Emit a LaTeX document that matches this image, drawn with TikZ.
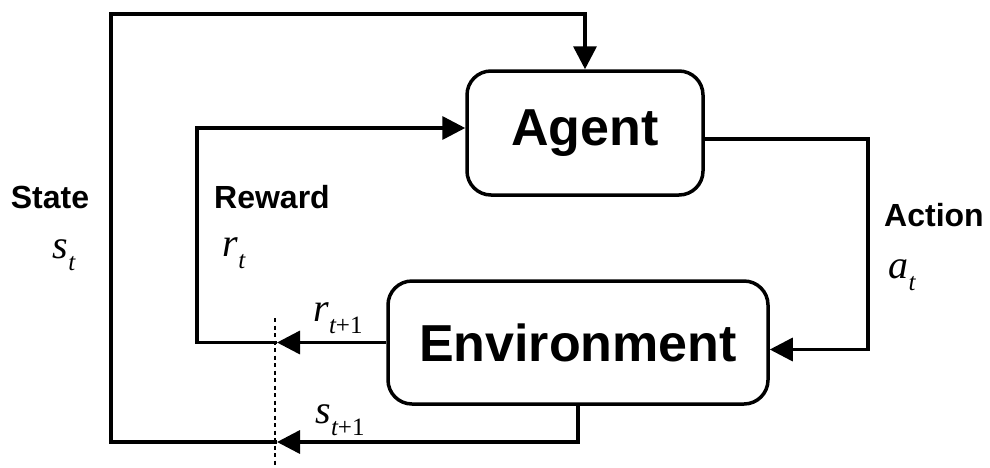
\documentclass[tikz,border=0pt]{standalone}
\usepackage{fontspec}
\setmainfont{Liberation Sans}
\newfontfamily\tms{Liberation Serif}
\usetikzlibrary{arrows.meta}
\newcommand\vsym[2]{{\tms\fontsize{40}{40}\selectfont\itshape #1\raisebox{-12pt}{\fontsize{25}{25}\selectfont #2}}}
\tikzset{
  box/.style={draw, line width=3.5pt, rounded corners=24pt, inner sep=0pt, font=\fontsize{52}{52}\selectfont\bfseries},
  conn/.style={line width=3.5pt},
  arr/.style={conn, -{Triangle[length=23pt,width=23pt]}},
  lbl/.style={font=\fontsize{32}{32}\selectfont\bfseries, inner sep=0pt},
  sym/.style={inner sep=0pt},
  cut/.style={line width=1.6pt, dash pattern=on 4pt off 3.5pt}
}
\begin{document}
\begin{tikzpicture}[x=1pt,y=-1pt]
\useasboundingbox (0,0) rectangle (990,467);
\node[box, minimum width=236pt, minimum height=124pt] (agent) at (585,133) {Agent};
\node[box, minimum width=380pt, minimum height=123pt] (env) at (578,342.5) {Environment};
% coordinates
\coordinate (sb) at (277,442);
\coordinate (sbl) at (111,442);
\coordinate (stl) at (111,14);
\coordinate (rb) at (277,342.5);
\coordinate (rbl) at (197,342.5);
\coordinate (rtl) at (197,128);
\coordinate (ar) at (868,139);
% state loop
\draw[arr] (env.south) |- (sb);
\draw[arr] (sb) -- (sbl) -- (stl) -| (agent.north);
% reward loop
\draw[arr] (env.west) -- (rb);
\draw[arr] (rb) -- (rbl) -- (rtl) -- (rtl -| agent.west);
% action
\draw[arr] (agent.east |- ar) -- (ar) |- ([yshift=-7pt]env.east);
% cut line
\coordinate (ct) at (275,318);
\coordinate (cb) at (275,467);
\draw[cut] (ct) -- (cb);
% labels
\node[lbl] (state) at (50,197) {State};
\node[sym] (st) at (64,255) {\vsym{s}{t}};
\node[lbl, anchor=west] (reward) at (214,197) {Reward};
\node[sym] (rt) at (234,253) {\vsym{r}{t}};
\node[sym] (rt1) at (338,318) {\vsym{r}{t{\upshape +1}}};
\node[sym] (st1) at (340,420) {\vsym{s}{t{\upshape +1}}};
\node[lbl, anchor=west] (action) at (884,215) {Action};
\node[sym] (at) at (902,275) {\vsym{a}{t}};
\end{tikzpicture}
\end{document}
